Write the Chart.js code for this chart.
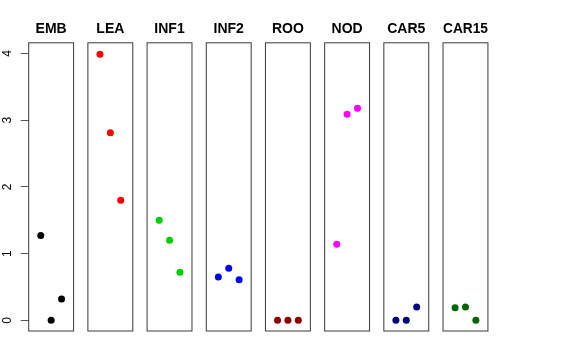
<!DOCTYPE html>
<html>
<head>
<meta charset="utf-8">
<script src="https://cdn.jsdelivr.net/npm/chart.js@4.4.1/dist/chart.umd.min.js"></script>
<style>
  html, body { margin: 0; padding: 0; background: #fff; }
  #wrap { position: relative; width: 576px; height: 360px; overflow: hidden; }
  .panel { position: absolute; top: 0; height: 360px; }
</style>
</head>
<body>
<div id="wrap"></div>
<script>
// data
const panels = ['EMB', 'LEA', 'INF1', 'INF2', 'ROO', 'NOD', 'CAR5', 'CAR15'];
const xPos = [1, 2, 3];
const yTicks = [0, 1, 2, 3, 4];
const embValues = [1.27, 0.00, 0.32];
const leaValues = [3.99, 2.81, 1.80];
const inf1Values = [1.50, 1.20, 0.72];
const inf2Values = [0.65, 0.78, 0.61];
const rooValues = [0.00, 0.00, 0.00];
const nodValues = [1.14, 3.09, 3.18];
const car5Values = [0.00, 0.00, 0.20];
const car15Values = [0.19, 0.20, 0.00];
const panelValues = [embValues, leaValues, inf1Values, inf2Values, rooValues, nodValues, car5Values, car15Values];
const panelColors = ['#000000', '#FF0000', '#00CD00', '#0000FF', '#8B0000', '#FF00FF', '#000080', '#006400'];

// layout
const plotLeft = 28.7, plotStep = 59.19, plotWidth = 44.9, side = 7;

// frame round each panel
const boxPlugin = {
  id: 'box',
  afterDraw(chart) {
    const a = chart.chartArea, c = chart.ctx;
    c.save();
    c.strokeStyle = '#3a3a3a';
    c.lineWidth = 1;
    c.strokeRect(a.left, a.top, a.right - a.left, a.bottom - a.top);
    c.restore();
  }
};

const wrap = document.getElementById('wrap');

panels.forEach((name, i) => {
  const left = plotLeft + i * plotStep;
  const first = i === 0;
  const cLeft = first ? 0 : Math.floor(left) - side;
  const cWidth = Math.ceil(left + plotWidth) + side - cLeft;
  const div = document.createElement('div');
  div.className = 'panel';
  div.style.left = cLeft + 'px';
  div.style.width = cWidth + 'px';
  const cv = document.createElement('canvas');
  div.appendChild(cv);
  wrap.appendChild(div);

  new Chart(cv, {
    type: 'scatter',
    data: {
      datasets: [{
        data: xPos.map((x, k) => ({ x: x, y: panelValues[i][k] })),
        backgroundColor: panelColors[i],
        borderColor: panelColors[i],
        borderWidth: 0,
        pointRadius: 3.5,
        pointHoverRadius: 3.5
      }]
    },
    options: {
      responsive: true,
      maintainAspectRatio: false,
      animation: false,
      events: [],
      layout: {
        padding: {
          top: 11,
          bottom: 29,
          left: first ? 0 : left - cLeft,
          right: cLeft + cWidth - left - plotWidth
        }
      },
      plugins: {
        legend: { display: false },
        tooltip: { enabled: false },
        title: {
          display: true,
          text: name,
          fullSize: false,
          color: '#000',
          font: { family: 'Liberation Sans', size: 14, weight: 'bold', lineHeight: 1.2 },
          padding: { top: 10, bottom: 5 }
        }
      },
      scales: {
        x: { type: 'linear', display: false, min: -0.16, max: 4.16 },
        y: {
          type: 'linear',
          display: first,
          min: -0.16,
          max: 4.16,
          afterBuildTicks: s => { s.ticks = yTicks.map(v => ({ value: v })); },
          afterFit: s => { if (first) s.width = left; },
          border: { display: false },
          grid: { drawOnChartArea: false, drawTicks: true, tickLength: 8, color: '#555' },
          ticks: {
            minRotation: 90,
            maxRotation: 90,
            crossAlign: 'center',
            padding: 10,
            color: '#000',
            font: { family: 'Liberation Sans', size: 12 }
          }
        }
      }
    },
    plugins: [boxPlugin]
  });
});
</script>
</body>
</html>
